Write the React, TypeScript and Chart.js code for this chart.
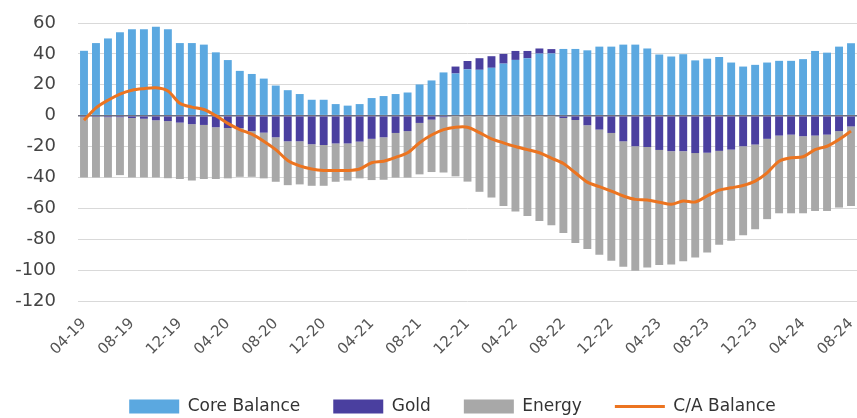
import { useEffect, useRef } from "react";
import { Chart, registerables } from "chart.js";

Chart.register(...registerables);

const months = [
  "04-19", "05-19", "06-19", "07-19", "08-19", "09-19", "10-19", "11-19", "12-19",
  "01-20", "02-20", "03-20", "04-20", "05-20", "06-20", "07-20", "08-20", "09-20", "10-20", "11-20", "12-20",
  "01-21", "02-21", "03-21", "04-21", "05-21", "06-21", "07-21", "08-21", "09-21", "10-21", "11-21", "12-21",
  "01-22", "02-22", "03-22", "04-22", "05-22", "06-22", "07-22", "08-22", "09-22", "10-22", "11-22", "12-22",
  "01-23", "02-23", "03-23", "04-23", "05-23", "06-23", "07-23", "08-23", "09-23", "10-23", "11-23", "12-23",
  "01-24", "02-24", "03-24", "04-24", "05-24", "06-24", "07-24", "08-24",
];

const coreBalance = [
  42, 47, 50, 54, 56, 56, 57.5, 56, 47, 47, 46, 41, 36, 29, 27, 24, 19.5, 16.5, 14, 10.3, 10.3,
  7.5, 6.5, 7.5, 11.4, 12.7, 14, 15, 20.2, 22.8, 28, 27.3, 30, 29.7, 31, 33.7, 36.1, 37.2, 40.2, 40.3,
  43.2, 43.2, 42.3, 44.7, 44.7, 46, 46, 43.5, 39.6, 38.3, 39.8, 35.8, 36.9, 38, 34.4, 31.8, 32.9,
  34.4, 35.5, 35.5, 36.6, 41.9, 40.8, 44.7, 46.9,
];

const gold = [
  -0.8, -0.8, -1, -1, -1.5, -2, -3, -3.5, -4.5, -5.5, -6, -7.5, -8, -8, -10, -11, -14, -16.6, -16.6, -18.5, -19,
  -18, -18, -16.8, -15, -14, -11.2, -10, -4.7, -2.6, -1, 4.5, 5.4, 7.5, 7.5, 6.3, 5.8, 4.7, 3.3, 2.8,
  -1.5, -2.8, -6.2, -9, -11.2, -16.6, -19.8, -20.3, -22.2, -23, -23, -24.2, -24, -22.8, -22, -19.8, -18.7,
  -15, -12.9, -12.3, -13.3, -12.9, -12.3, -10, -7,
];

const energy = [
  -39.2, -39.2, -39, -37.5, -38.5, -38, -37, -37, -36.5, -36.5, -35, -33.5, -32.6, -31.6, -29.6, -29.6, -28.8,
  -28.4, -27.9, -26.9, -26.4, -24.8, -24, -23.8, -26.7, -27.5, -28.9, -30.1, -33.3, -33.9, -35.8, -39.3,
  -42.7, -49.3, -53, -58.5, -62, -65, -68.2, -70.9, -74.5, -79.6, -80.1, -81, -82.8, -81.2, -80.6, -78,
  -74.5, -73.4, -71.2, -67.6, -64.6, -60.8, -59, -57.6, -54.8, -52, -50.3, -50.9, -49.9, -48.8, -49.4,
  -49.5, -51.5,
];

const caBalance = [
  -3, 5, 10, 14, 16.5, 17.5, 18, 16, 8, 5.5, 4, 0, -5, -9, -12, -16.5, -22, -29, -32.5, -34.5, -35.5,
  -35.5, -35.5, -34.5, -30.5, -29.5, -27, -24, -17.5, -12.5, -9, -7.5, -7.5, -11, -15, -17.6, -20, -22,
  -24, -27.5, -31, -37, -43, -46, -48.8, -52, -54.2, -54.6, -56, -57.4, -55.3, -55.9, -52, -48.2, -46.7,
  -45.2, -42.4, -37, -29.5, -27.3, -26.6, -22, -19.8, -15.5, -10,
];

const yMin = -120;
const yMax = 60;
const yStep = 20;
const labelEvery = 4;

const FONT = "'DejaVu Sans', 'Noto Sans', sans-serif";

const legendShift = {
  id: "legendShift",
  afterLayout(chart: any) {
    const lg = chart.legend;
    if (lg) {
      lg.left += 24;
      lg.right += 24;
    }
  },
};

export default function App() {
  const ref = useRef<HTMLCanvasElement>(null);

  useEffect(() => {
    if (!ref.current) return;
    const chart = new Chart(ref.current, {
      type: "bar",
      data: {
        labels: months,
        datasets: [
          {
            label: "Core Balance",
            data: coreBalance,
            backgroundColor: "#5BA8E0",
            borderWidth: 0,
            stack: "s",
            order: 1,
            barPercentage: 0.66,
            categoryPercentage: 1,
          },
          {
            label: "Gold",
            data: gold,
            backgroundColor: "#4A3F9F",
            borderWidth: 0,
            stack: "s",
            order: 1,
            barPercentage: 0.66,
            categoryPercentage: 1,
          },
          {
            label: "Energy",
            data: energy,
            backgroundColor: "#A8A8A8",
            borderWidth: 0,
            stack: "s",
            order: 1,
            barPercentage: 0.66,
            categoryPercentage: 1,
          },
          {
            type: "line",
            label: "C/A Balance",
            data: caBalance,
            borderColor: "#EC7420",
            backgroundColor: "#EC7420",
            borderWidth: 3,
            pointRadius: 0,
            tension: 0.3,
            stack: "ca",
            order: 0,
          } as any,
        ],
      },
      plugins: [legendShift],
      options: {
        responsive: false,
        animation: false,
        layout: { padding: { left: 0, right: 0, top: 23, bottom: -7 } },
        plugins: {
          tooltip: { enabled: false },
          legend: {
            position: "bottom",
            labels: {
              usePointStyle: true,
              pointStyleWidth: 50,
              boxHeight: 14,
              padding: 33,
              color: "#333",
              font: { family: FONT, size: 17 },
              sort: (a: any, b: any) => a.datasetIndex - b.datasetIndex,
              generateLabels: (c: any) => {
                const items = Chart.defaults.plugins.legend.labels.generateLabels(c);
                return items.map((it: any) => {
                  if (it.datasetIndex === 3) {
                    it.pointStyle = "line";
                    it.lineWidth = 3;
                    it.strokeStyle = "#EC7420";
                  } else {
                    it.pointStyle = "rect";
                    it.lineWidth = 0;
                  }
                  return it;
                });
              },
            },
          },
        },
        scales: {
          x: {
            stacked: true,
            grid: { display: false, drawTicks: false },
            border: { display: false },
            ticks: {
              autoSkip: false,
              maxRotation: 45,
              minRotation: 45,
              padding: 14,
              color: "#555",
              font: { family: FONT, size: 15 },
              callback: (_v: any, i: number) => (i % labelEvery === 0 ? months[i] : ""),
            },
            afterFit: (s: any) => {
              s.height = 64;
              s.paddingLeft = 0;
              s.paddingRight = 0;
            },
          },
          y: {
            stacked: true,
            min: yMin,
            max: yMax,
            grid: {
              drawTicks: false,
              color: (ctx: any) => (ctx.tick && ctx.tick.value === 0 ? "#6f6f7f" : "#d9d9d9"),
              lineWidth: (ctx: any) => (ctx.tick && ctx.tick.value === 0 ? 1.5 : 1),
            },
            border: { display: false },
            ticks: {
              stepSize: yStep,
              padding: 22,
              color: "#444",
              font: { family: FONT, size: 18 },
            },
            afterFit: (s: any) => {
              s.width = 78;
              s.paddingTop = 0;
              s.paddingBottom = 0;
            },
          },
        },
      },
    });
    return () => chart.destroy();
  }, []);

  return (
    <div style={{ position: "fixed", left: 0, top: 0, width: 857, height: 418, background: "#fff" }}>
      <canvas ref={ref} width={857} height={418} />
    </div>
  );
}
